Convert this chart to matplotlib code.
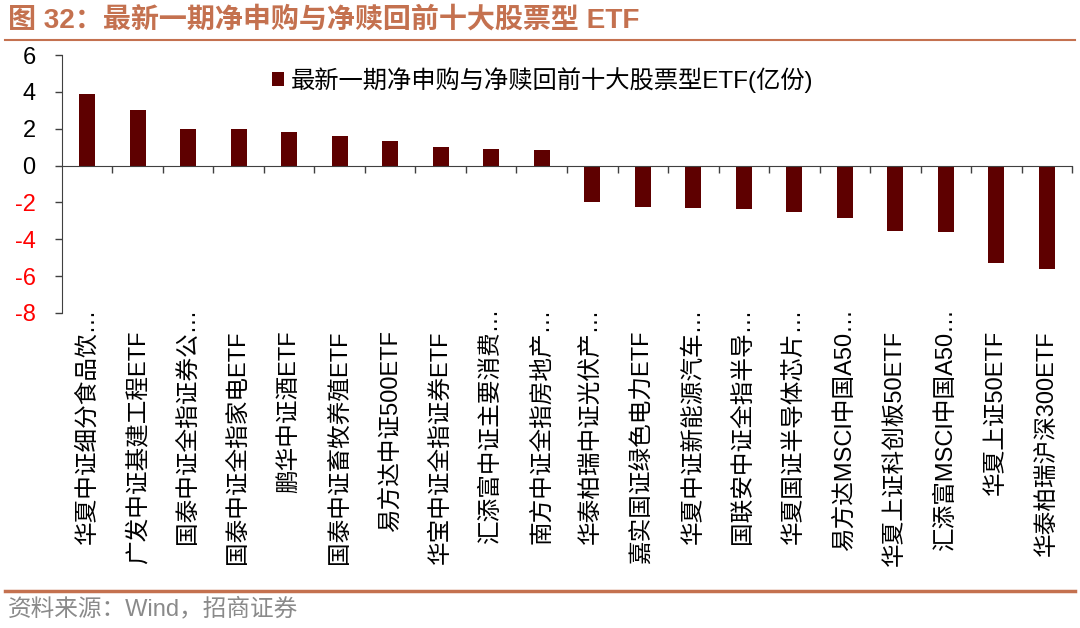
import matplotlib
matplotlib.use("Agg")
import matplotlib.pyplot as plt
import matplotlib.transforms as mtransforms

plt.rcParams['font.family'] = ['Liberation Sans', 'Noto Sans CJK SC', 'DejaVu Sans']

# ETF names and latest-period net creation/redemption (100m units)
names = [
    "华夏中证细分食品饮…", "广发中证基建工程ETF", "国泰中证全指证券公…", "国泰中证全指家电ETF",
    "鹏华中证酒ETF", "国泰中证畜牧养殖ETF", "易方达中证500ETF", "华宝中证全指证券ETF",
    "汇添富中证主要消费…", "南方中证全指房地产…", "华泰柏瑞中证光伏产…", "嘉实国证绿色电力ETF",
    "华夏中证新能源汽车…", "国联安中证全指半导…", "华夏国证半导体芯片…", "易方达MSCI中国A50…",
    "华夏上证科创板50ETF", "汇添富MSCI中国A50…", "华夏上证50ETF", "华泰柏瑞沪深300ETF",
]
values = [3.9, 3.03, 2.0, 1.98, 1.83, 1.63, 1.31, 1.0, 0.89, 0.85,
          -1.96, -2.26, -2.32, -2.37, -2.5, -2.83, -3.55, -3.6, -5.27, -5.6]
yticks = [-8, -6, -4, -2, 0, 2, 4, 6]
legend_label = "最新一期净申购与净赎回前十大股票型ETF(亿份)"
title = "图 32：最新一期净申购与净赎回前十大股票型 ETF"
source = "资料来源：Wind，招商证券"

bar_color = "#5E0000"
accent = "#C4714F"

fig = plt.figure(figsize=(10.8, 6.28), dpi=100)
ax = fig.add_axes([0.0574, 0.5016, 0.9352, 0.4108])

x = list(range(len(names)))
ax.bar(x, values, width=0.32, color=bar_color, label=legend_label)

ax.set_xlim(-0.5, len(names) - 0.5)
ax.set_ylim(-8, 6)
ax.set_yticks(yticks)
ax.set_yticklabels([str(v) for v in yticks], fontsize=17)
for lab, v in zip(ax.get_yticklabels(), yticks):
    lab.set_color("#FF0000" if v < 0 else "black")
ax.tick_params(axis='y', direction='out', length=5, width=1, pad=14, color="#404040")

ax.spines['top'].set_visible(False)
ax.spines['right'].set_visible(False)
ax.spines['bottom'].set_position(('data', 0))
ax.spines['bottom'].set_color("#404040")
ax.spines['left'].set_color("#404040")

# category boundary ticks on the zero line
ax.set_xticks(x)
ax.set_xticklabels([])
ax.tick_params(axis='x', which='major', length=0)
ax.set_xticks([i + 0.5 for i in x], minor=True)
ax.tick_params(axis='x', which='minor', direction='out', length=5, width=1, color="#404040")

# category labels below the plot area, rotated
trans = mtransforms.blended_transform_factory(ax.transData, ax.transAxes)
for i, name in enumerate(names):
    ytop = 0.019 if name.endswith("…") else -0.066
    ax.text(i, ytop, name, rotation=90, ha='center', va='top', fontsize=17,
            transform=trans)

ax.legend(loc='center left', bbox_to_anchor=(0.252, 0.873), bbox_transform=fig.transFigure,
          frameon=False, fontsize=17.5, handlelength=0.5, handleheight=0.5,
          handletextpad=0.25, borderpad=0, borderaxespad=0)

fig.text(0.007, 0.968, title, fontsize=20.2, fontweight='bold', color=accent, va='center', ha='left')
fig.add_artist(plt.Line2D([0.005, 0.995], [0.936, 0.936], color=accent, lw=1.5,
                          transform=fig.transFigure))
fig.add_artist(plt.Line2D([0.005, 0.995], [0.059, 0.059], color=accent, lw=2.5,
                          transform=fig.transFigure))
fig.text(0.007, 0.030, source, fontsize=17, color="#8A8A8A", va='center', ha='left')

fig.savefig("out.png", dpi=100)
